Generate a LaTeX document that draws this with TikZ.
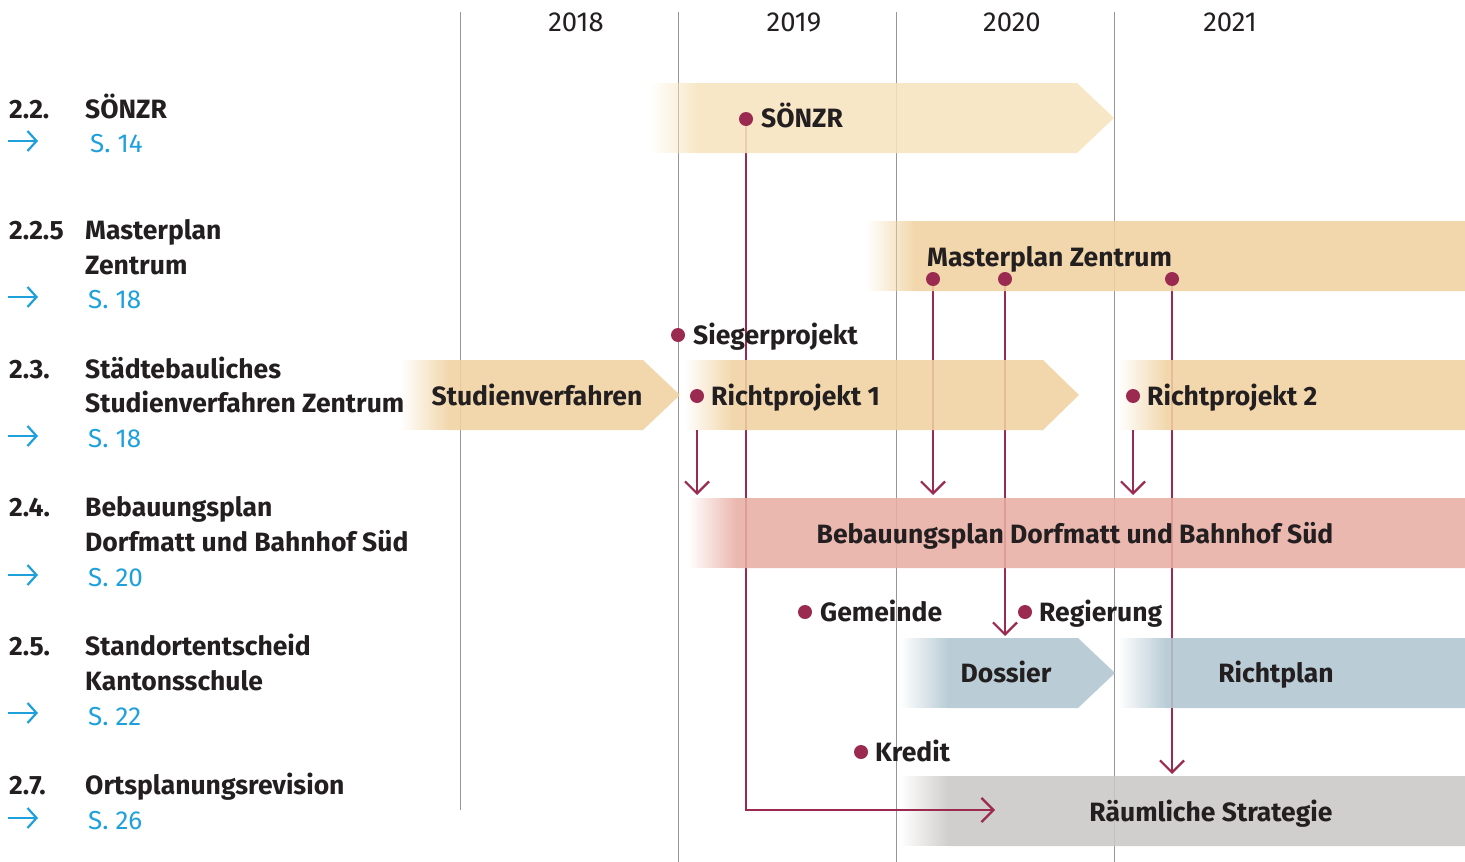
\documentclass[tikz,border=0pt]{standalone}
\usepackage{fontspec}
\setmainfont{Fira Sans}
\usetikzlibrary{arrows.meta,fadings,positioning}
\definecolor{sonzrbeige}{RGB}{247,228,191}
\definecolor{planbeige}{RGB}{240,210,162}
\definecolor{bebaupink}{RGB}{232,174,164}
\definecolor{richtblue}{RGB}{176,198,208}
\definecolor{strategygray}{RGB}{202,200,198}
\definecolor{linkred}{RGB}{155,42,80}
\definecolor{pageblue}{RGB}{30,160,220}
\definecolor{gridgray}{RGB}{150,150,150}
\definecolor{textdark}{RGB}{35,31,32}

\tikzfading[name=fadein, left color=transparent!100, right color=transparent!0]

% faded bar: colour, left, top, right of body, bottom, tip
\newcommand{\fadedbar}[6]{%
  \fill[#1, fill opacity=0.88, path fading=fadein] (#2,#3) rectangle (#2+48,#5);
  \fill[#1, fill opacity=0.88] (#2+48,#3) -- (#4,#3) -- (#6,{(#3+#5)/2}) -- (#4,#5) -- (#2+48,#5) -- cycle;}

\begin{document}
\begin{tikzpicture}[x=1pt, y=-1pt,
    txt/.style={inner sep=0pt, text=textdark, font=\fontsize{26}{32}\selectfont},
    sectnum/.style={txt, anchor=base west, font=\fontsize{26.5}{32}\selectfont\bfseries},
    secttitle/.style={sectnum},
    pageref/.style={txt, anchor=base west, text=pageblue},
    year/.style={txt, anchor=base, font=\fontsize{27.5}{32}\selectfont},
    bartext/.style={txt, anchor=base west, font=\fontsize{26.5}{32}\selectfont\bfseries},
    dot/.style={circle, minimum size=14pt, inner sep=0pt},
    gridline/.style={gridgray, line width=1pt},
    link/.style={draw=linkred, line width=2.2pt, -{Straight Barb[length=12pt, width=24pt]}},
    pagearrow/.style={draw=pageblue, line width=2.2pt, -{Straight Barb[length=9pt, width=20pt]}}
]
\useasboundingbox (0,0) rectangle (1465,862);

% Years and grid
\foreach \x/\yr/\bot in {460/2018/810, 678/2019/862, 896/2020/862, 1114/2021/862} {
  \draw[gridline] (\x,12) -- (\x,\bot);
  \node[year] (year\yr) at (\x+116,31) {\yr};
}

% Section labels
\node[sectnum] (num1) at (9,118) {2.2.};
\node[secttitle] (title1) at (85,118) {SÖNZR};
\node[pageref] (page1) at (90,152) {S. 14};
\node[sectnum] (num2) at (9,239) {2.2.5};
\node[secttitle] (title2a) at (85,239) {Masterplan};
\node[secttitle] (title2b) at (85,274) {Zentrum};
\node[pageref] (page2) at (88,308) {S. 18};
\node[sectnum] (num3) at (9,378) {2.3.};
\node[secttitle] (title3a) at (85,378) {Städtebauliches};
\node[secttitle] (title3b) at (85,412) {Studienverfahren Zentrum};
\node[pageref] (page3) at (88,447) {S. 18};
\node[sectnum] (num4) at (9,516) {2.4.};
\node[secttitle] (title4a) at (85,516) {Bebauungsplan};
\node[secttitle] (title4b) at (85,551) {Dorfmatt und Bahnhof Süd};
\node[pageref] (page4) at (88,586) {S. 20};
\node[sectnum] (num5) at (9,655) {2.5.};
\node[secttitle] (title5a) at (85,655) {Standortentscheid};
\node[secttitle] (title5b) at (85,690) {Kantonsschule};
\node[pageref] (page5) at (88,725) {S. 22};
\node[sectnum] (num6) at (9,794) {2.7.};
\node[secttitle] (title6) at (85,794) {Ortsplanungsrevision};
\node[pageref] (page6) at (88,829) {S. 26};

% Page arrows
\foreach \i/\y in {1/141, 2/297, 3/436, 4/575, 5/713, 6/818} {
  \coordinate (arrow\i) at (8,\y);
  \draw[pagearrow] (arrow\i) -- ++(30,0);
}

% Milestones
\node[dot] (sonzrdot) at (746,119) {};
\node[dot] (mpdotA) at (933,279) {};
\node[dot] (mpdotB) at (1005,279) {};
\node[dot] (mpdotC) at (1172,279) {};
\node[dot] (siegerdot) at (678,335) {};
\node[dot] (rp1dot) at (697,396) {};
\node[dot] (rp2dot) at (1133,396) {};
\node[dot] (gemeindedot) at (805,612) {};
\node[dot] (regierungdot) at (1025,612) {};
\node[dot] (kreditdot) at (861,752) {};

\coordinate (rowthreebot) at (0,430);
\coordinate (bebautop) at (0,495);
\coordinate (dossiertop) at (0,636);
\coordinate (strattop) at (0,774);
\coordinate (stratin) at (995,810);

% Strategy bar lies under its incoming link
\fadedbar{strategygray}{900}{776}{1465}{846}{1465}

% Links (behind the other bars)
\draw[link] (sonzrdot.center) |- (stratin);
\draw[link] (rp1dot |- rowthreebot) -- (rp1dot |- bebautop);
\draw[link] (mpdotA.center) -- (mpdotA |- bebautop);
\draw[link] (mpdotB.center) -- (mpdotB |- dossiertop);
\draw[link] (mpdotC.center) -- (mpdotC |- strattop);
\draw[link] (rp2dot |- rowthreebot) -- (rp2dot |- bebautop);

% Bars
\fadedbar{sonzrbeige}{650}{83}{1077}{153}{1114}
\fadedbar{planbeige}{866}{221}{1465}{291}{1465}
\fadedbar{planbeige}{400}{360}{643}{430}{680}
\fadedbar{planbeige}{684}{360}{1043}{430}{1079}
\fadedbar{planbeige}{1118}{360}{1465}{430}{1465}
\fadedbar{bebaupink}{688}{498}{1465}{568}{1465}
\fadedbar{richtblue}{900}{638}{1078}{708}{1115}
\fadedbar{richtblue}{1118}{638}{1465}{708}{1465}

% Bar texts
\node[bartext] (sonzr) at (761,127) {SÖNZR};
\node[bartext] (masterplan) at (927,266) {Masterplan Zentrum};
\node[bartext, anchor=base] (studien) at (537,405) {Studienverfahren};
\node[bartext] (richt1) at (711,405) {Richtprojekt 1};
\node[bartext] (richt2) at (1147,405) {Richtprojekt 2};
\node[bartext, anchor=base] (bebau) at (1075,543) {Bebauungsplan Dorfmatt und Bahnhof Süd};
\node[bartext, anchor=base] (dossier) at (1006,682) {Dossier};
\node[bartext, anchor=base] (richtplan) at (1276,682) {Richtplan};
\node[bartext, anchor=base] (strategie) at (1211,821) {Räumliche Strategie};

% Milestone texts
\node[bartext] (sieger) at (693,344) {Siegerprojekt};
\node[bartext] (gemeinde) at (820,621) {Gemeinde};
\node[bartext] (regierung) at (1039,621) {Regierung};
\node[bartext] (kredit) at (875,761) {Kredit};

% Dots on top
\foreach \d in {sonzrdot, mpdotA, mpdotB, mpdotC, siegerdot, rp1dot, rp2dot, gemeindedot, regierungdot, kreditdot}
  \fill[linkred] (\d) circle (7pt);

\end{tikzpicture}
\end{document}
